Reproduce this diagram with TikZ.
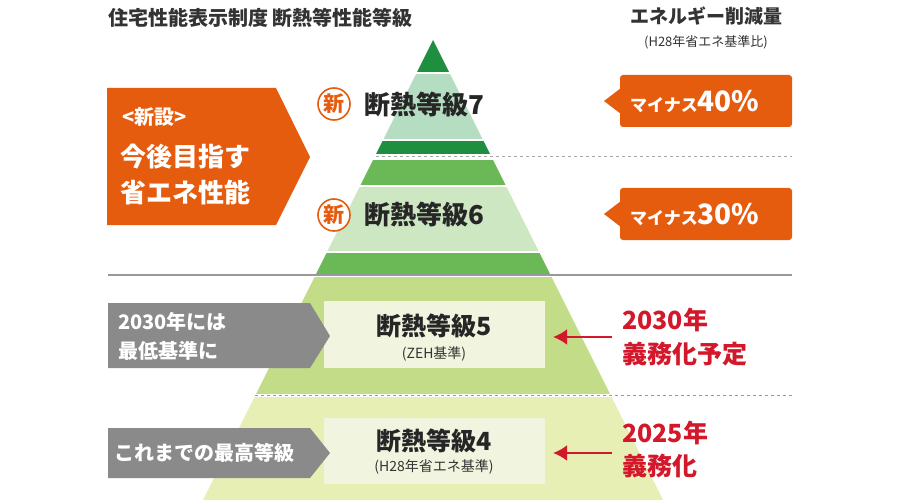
\documentclass[tikz,border=0pt]{standalone}
\usepackage{fontspec}
\usetikzlibrary{arrows.meta}
\setmainfont{Noto Sans CJK JP}
\begin{document}
\begin{tikzpicture}[x=1pt,y=-1pt,
  every node/.style={inner sep=0pt,font=\bfseries},
  redt/.style={text=redc,font=\bfseries\fontsize{25}{28}\selectfont,anchor=west},
  newc/.style={circle,draw=orng,line width=1.6pt,fill=white,minimum size=32pt,text=orng,font=\bfseries\fontsize{21}{22}\selectfont},
  lvl/.style={text=black!85,font=\bfseries\fontsize{26}{28}\selectfont,anchor=west},
  wtxt/.style={text=white,font=\bfseries\fontsize{26}{30}\selectfont,anchor=west},
  gtxt/.style={text=white,font=\bfseries\fontsize{20}{22}\selectfont,anchor=west}]
\definecolor{orng}{HTML}{E65C0E}
\definecolor{redc}{HTML}{D2182A}
\definecolor{dkg}{HTML}{1E8F3E}
\definecolor{mint}{HTML}{B5DDC2}
\definecolor{midg}{HTML}{6BB857}
\definecolor{ltg}{HTML}{CCE7C2}
\definecolor{lv5}{HTML}{C3DC88}
\definecolor{lv4}{HTML}{E8EFB5}
\definecolor{boxc}{HTML}{F1F5DF}
\definecolor{grayc}{HTML}{8A8A8A}
\useasboundingbox (0,0) rectangle (900,500);
\fill[white] (0,0) rectangle (900,500);
\begin{scope}
\clip (433,40) -- (665,504) -- (201,504) -- cycle;
\fill[dkg] (150,30) rectangle (700,72);
\fill[mint] (150,74) rectangle (700,139);
\fill[dkg] (150,141) rectangle (700,154);
\fill[midg] (150,160) rectangle (700,185);
\fill[ltg] (150,187) rectangle (700,251);
\fill[midg] (150,253) rectangle (700,274);
\fill[lv5] (150,277) rectangle (700,394);
\fill[lv4] (150,397) rectangle (700,504);
\end{scope}
\draw[gray!70,dashed,line width=1pt] (376,157) -- (792,157);
\draw[gray!80,line width=1.5pt] (108,275) -- (792,275);
\draw[gray!80,dashed,line width=1pt] (255,395) -- (792,395);
% headers
\node[anchor=west,text=black!80,font=\bfseries\fontsize{20}{22}\selectfont] (h1) at (108,18) {住宅性能表示制度\ 断熱等性能等級};
\node[text=black!80,font=\bfseries\fontsize{19}{22}\selectfont] (h2) at (706,16) {エネルギー削減量};
\node[text=black!80,font=\fontsize{13}{15}\selectfont] (h3) at (706,42) {(H28年省エネ基準比)};
% left orange
\fill[orng] (107,88) -- (276,88) -- (310,157) -- (276,225) -- (107,225) -- cycle;
\node[text=white,font=\bfseries\fontsize{20}{22}\selectfont,anchor=west] (n0) at (122,117) {<新設>};
\node[wtxt] (n1) at (120,157) {今後目指す};
\node[wtxt] (n2) at (120,193) {省エネ性能};
% levels 7 and 6
\node[newc] (c7) at (334,104) {新};
\node[lvl] (l7) at (364,105) {断熱等級7};
\node[newc] (c6) at (334,215) {新};
\node[lvl] (l6) at (364,215) {断熱等級6};
% right orange
\fill[orng,rounded corners=3pt] (620,75) rectangle (792,127);
\fill[orng] (621,88) -- (604,101) -- (621,114) -- cycle;
\node[text=white,anchor=west] (m40) at (630,102) {\fontsize{17}{20}\selectfont マイナス\fontsize{28}{30}\selectfont 40\%};
\fill[orng,rounded corners=3pt] (620,188) rectangle (792,240);
\fill[orng] (621,201) -- (604,214) -- (621,227) -- cycle;
\node[text=white,anchor=west] (m30) at (630,215) {\fontsize{17}{20}\selectfont マイナス\fontsize{28}{30}\selectfont 30\%};
% level 5 & 4 boxes
\fill[boxc] (324,301) rectangle (545,368);
\node[text=black!85,font=\bfseries\fontsize{25}{28}\selectfont] (l5) at (434,326) {断熱等級5};
\node[text=black!80,font=\fontsize{14}{16}\selectfont] (l5s) at (434,354) {(ZEH基準)};
\fill[boxc] (324,418) rectangle (545,484);
\node[text=black!85,font=\bfseries\fontsize{25}{28}\selectfont] (l4) at (434,441) {断熱等級4};
\node[text=black!80,font=\fontsize{14}{16}\selectfont] (l4s) at (434,467) {(H28年省エネ基準)};
% gray
\fill[grayc] (108,303) -- (310,303) -- (330,336) -- (310,368) -- (108,368) -- cycle;
\node[gtxt] (g1) at (118,322) {2030年には};
\node[gtxt] (g2) at (118,351) {最低基準に};
\fill[grayc] (108,428) -- (310,428) -- (330,453) -- (310,478) -- (108,478) -- cycle;
\node[gtxt] (g3) at (114,453) {これまでの最高等級};
% red
\coordinate (a5) at (612,337); \coordinate (a4) at (612,453);
\coordinate (b5) at (553,337); \coordinate (b4) at (553,453);
\draw[redc,line width=2.5pt,-{Latex[length=14pt,width=16pt]}] (a5) -- (b5);
\draw[redc,line width=2.5pt,-{Latex[length=14pt,width=16pt]}] (a4) -- (b4);
\node[redt] (r1) at (622,320) {2030年};
\node[redt] (r2) at (622,354) {義務化予定};
\node[redt] (r3) at (622,433) {2025年};
\node[redt] (r4) at (622,466) {義務化};
\end{tikzpicture}
\end{document}
